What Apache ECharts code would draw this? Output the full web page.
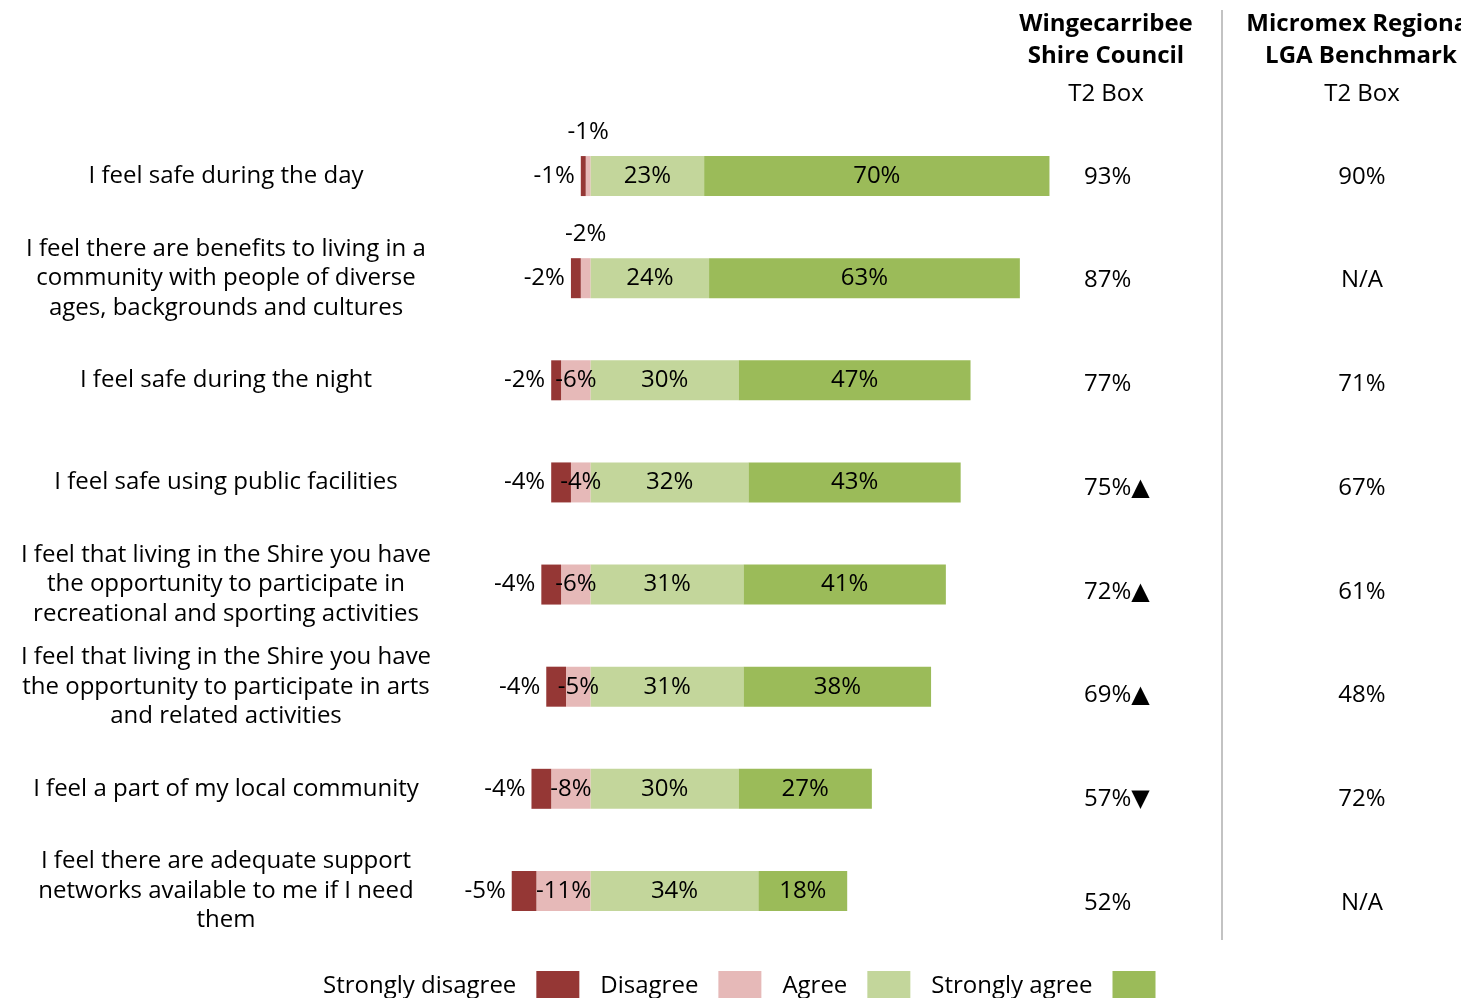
<!DOCTYPE html>
<html>
<head>
<meta charset="utf-8">
<title>Community safety and belonging</title>
<script src="https://cdn.jsdelivr.net/npm/echarts@6/dist/echarts.min.js"></script>
<style>
  html, body { margin: 0; padding: 0; background: #ffffff; }
  #chart { width: 1461px; height: 998px; }
</style>
</head>
<body>
<div id="chart"></div>
<script>
// Statements (line breaks as they are set on the page)
const categories = [
  'I feel safe during the day',
  'I feel there are benefits to living in a\ncommunity with people of diverse\nages, backgrounds and cultures',
  'I feel safe during the night',
  'I feel safe using public facilities',
  'I feel that living in the Shire you have\nthe opportunity to participate in\nrecreational and sporting activities',
  'I feel that living in the Shire you have\nthe opportunity to participate in arts\nand related activities',
  'I feel a part of my local community',
  'I feel there are adequate support\nnetworks available to me if I need\nthem'
];

// Response shares (%); disagreement is plotted to the left of zero
const stronglyDisagree = [-1, -2, -2, -4, -4, -4, -4, -5];
const disagree         = [-1, -2, -6, -4, -6, -5, -8, -11];
const agree            = [23, 24, 30, 32, 31, 31, 30, 34];
const stronglyAgree    = [70, 63, 47, 43, 41, 38, 27, 18];

// Top-two-box scores and benchmark
const t2Box      = [93, 87, 77, 75, 72, 69, 57, 52];
const t2Shift    = ['', '', '', 'up', 'up', 'up', 'down', ''];
const benchmark  = [90, null, 71, 67, 61, 48, 72, null];

const legendNames = ['Strongly disagree', 'Disagree', 'Agree', 'Strongly agree'];
const colors = {
  'Strongly disagree': '#953735',
  'Disagree': '#E6B9B8',
  'Agree': '#C3D69B',
  'Strongly agree': '#9BBB59'
};

const FONT = "'Open Sans', 'DejaVu Sans', sans-serif";
const TEXT_SIZE = 24;

const pct = p => p.value + '%';
const t2Labels = t2Box.map((v, i) =>
  v + '%' + (t2Shift[i] === 'up' ? '\u25B2' : t2Shift[i] === 'down' ? '\u25BC' : ''));
const benchLabels = benchmark.map(v => (v === null ? 'N/A' : v + '%'));

// Very thin "disagree" segments carry their label above the bar
const disagreeData = disagree.map(v =>
  Math.abs(v) <= 2 ? { value: v, label: { position: 'top', distance: 12 } } : v);

const labelBase = { show: true, color: '#000', fontFamily: FONT, fontSize: TEXT_SIZE, formatter: pct };

function barSeries(name, data, label) {
  return {
    name: name,
    type: 'bar',
    stack: 'total',
    barWidth: 40,
    data: data,
    itemStyle: { color: colors[name] },
    label: Object.assign({}, labelBase, label),
    emphasis: { disabled: true },
    xAxisIndex: 0,
    yAxisIndex: 0
  };
}

const chart = echarts.init(document.getElementById('chart'), null, { renderer: 'canvas' });

chart.setOption({
  animation: false,
  backgroundColor: '#ffffff',
  textStyle: { fontFamily: FONT },
  grid: [
    { left: 492, width: 592, top: 125, height: 817 },
    { left: 1084, right: 99, top: 125, height: 830 }
  ],
  xAxis: [
    { type: 'value', gridIndex: 0, min: -20, max: 100, show: false },
    { type: 'value', gridIndex: 1, min: 0, max: 1, show: false }
  ],
  yAxis: [
    {
      type: 'category', gridIndex: 0, inverse: true, data: categories,
      axisLine: { show: false }, axisTick: { show: false }, splitLine: { show: false },
      axisLabel: {
        margin: 266, align: 'center', color: '#000',
        fontFamily: FONT, fontSize: TEXT_SIZE, lineHeight: 29.5
      }
    },
    {
      type: 'category', gridIndex: 1, inverse: true, position: 'left', data: t2Labels,
      axisLine: { show: false }, axisTick: { show: false }, splitLine: { show: false },
      axisLabel: { inside: true, margin: 0, align: 'left', color: '#000', fontFamily: FONT, fontSize: TEXT_SIZE }
    },
    {
      type: 'category', gridIndex: 1, inverse: true, position: 'right', data: benchLabels,
      axisLine: { show: false }, axisTick: { show: false }, splitLine: { show: false },
      axisLabel: { inside: true, margin: 0, align: 'center', color: '#000', fontFamily: FONT, fontSize: TEXT_SIZE }
    }
  ],
  legend: {
    data: legendNames,
    left: 318, top: 966,
    align: 'right',
    itemWidth: 43, itemHeight: 30, itemGap: 21,
    icon: 'rect',
    selectedMode: false,
    textStyle: { color: '#000', fontFamily: FONT, fontSize: TEXT_SIZE, padding: [0, 15, 0, 0] }
  },
  graphic: [
    { type: 'line', shape: { x1: 1222, y1: 10, x2: 1222, y2: 940 }, style: { stroke: '#c3c3c3', lineWidth: 2 } },
    { type: 'text', x: 1106, y: 8, style: { text: 'Wingecarribee\nShire Council', align: 'center', fill: '#000',
      font: 'bold 24px ' + FONT, lineHeight: 32 } },
    { type: 'text', x: 1106, y: 82, style: { text: 'T2 Box', align: 'center', fill: '#000', font: '24px ' + FONT } },
    { type: 'text', x: 1361, y: 8, style: { text: 'Micromex Regional\nLGA Benchmark', align: 'center', fill: '#000',
      font: 'bold 24px ' + FONT, lineHeight: 32 } },
    { type: 'text', x: 1362, y: 82, style: { text: 'T2 Box', align: 'center', fill: '#000', font: '24px ' + FONT } }
  ],
  series: [
    barSeries('Disagree', disagreeData, { position: 'inside' }),
    barSeries('Strongly disagree', stronglyDisagree, { position: 'left', distance: 6 }),
    barSeries('Agree', agree, { position: 'inside' }),
    barSeries('Strongly agree', stronglyAgree, { position: 'inside' })
  ]
});
</script>
</body>
</html>
